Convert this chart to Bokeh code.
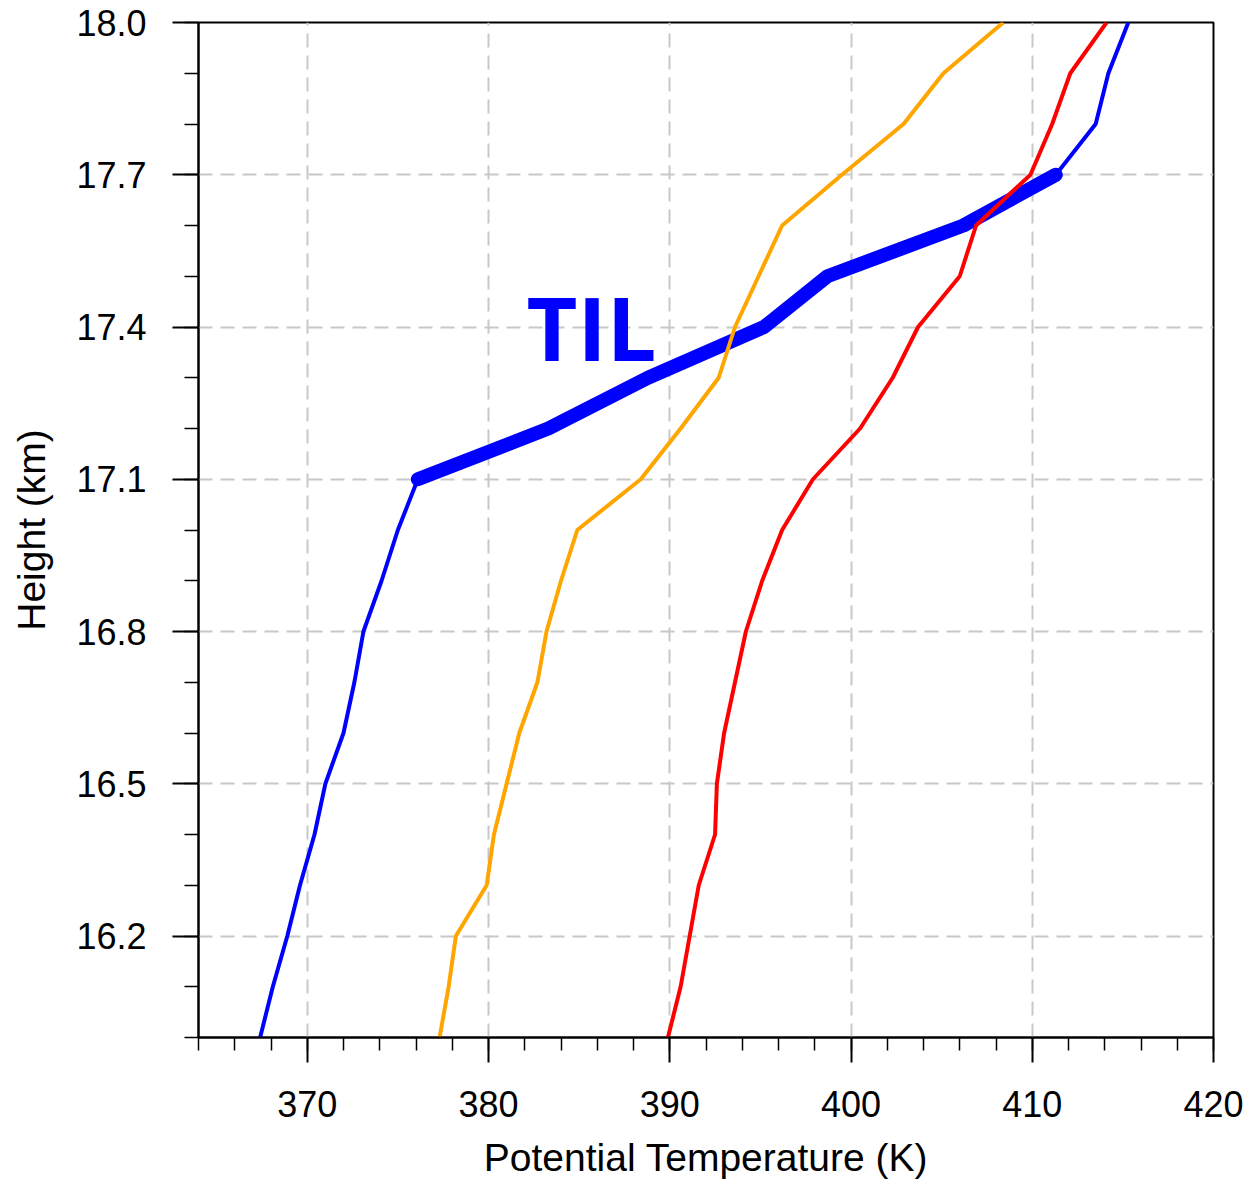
from bokeh.plotting import figure
from bokeh.models import Range1d, FixedTicker, PrintfTickFormatter
from bokeh.core.properties import value
from bokeh.embed import file_html
from bokeh.resources import INLINE

# ---- data ----
height_km = [16.0, 16.1, 16.2, 16.3, 16.4, 16.5, 16.6, 16.7, 16.8, 16.9, 17.0,
             17.1, 17.2, 17.3, 17.4, 17.5, 17.6, 17.7, 17.8, 17.9, 18.0]
theta_blue = [367.4, 368.1, 368.9, 369.6, 370.4, 371.0, 372.0, 372.6, 373.1, 374.1, 375.0,
              376.1, 383.3, 388.8, 395.2, 398.7, 406.2, 411.3, 413.5, 414.2, 415.3]
theta_orange = [377.3, 377.8, 378.2, 379.9, 380.3, 381.0, 381.7, 382.7, 383.2, 384.0, 384.9,
                388.4, 390.6, 392.7, 393.6, 394.9, 396.2, 399.5, 402.9, 405.1, 408.4]
theta_red = [389.9, 390.6, 391.1, 391.6, 392.5, 392.6, 393.0, 393.6, 394.2, 395.1, 396.2,
             397.9, 400.5, 402.3, 403.7, 406.0, 406.9, 409.9, 411.1, 412.1, 414.1]
til_bottom, til_top = 17.1, 17.7
til_label = "TIL"
til_label_x, til_label_y = 382.1, 17.40

x_major_ticks = [370, 380, 390, 400, 410, 420]
x_minor_ticks = [364, 366, 368, 370, 372, 374, 376, 378, 380, 382, 384, 386, 388, 390,
                 392, 394, 396, 398, 400, 402, 404, 406, 408, 410, 412, 414, 416, 418, 420]
y_major_ticks = [16.2, 16.5, 16.8, 17.1, 17.4, 17.7, 18.0]
y_minor_ticks = height_km

til_h = [h for h in height_km if til_bottom - 1e-9 <= h <= til_top + 1e-9]
til_t = [t for h, t in zip(height_km, theta_blue) if til_bottom - 1e-9 <= h <= til_top + 1e-9]

p = figure(width=1253, height=1181, output_backend="svg", toolbar_location=None,
           x_range=Range1d(364, 420), y_range=Range1d(16.0, 18.0),
           min_border_left=198, min_border_right=40, min_border_top=22, min_border_bottom=144)
p.background_fill_color = "white"
p.border_fill_color = "white"
p.outline_line_color = "black"
p.outline_line_width = 2

FONT = "Liberation Sans"
for ax in (p.xaxis[0], p.yaxis[0]):
    ax.axis_line_color = "black"
    ax.axis_line_width = 2
    ax.major_tick_line_color = "black"
    ax.minor_tick_line_color = "black"
    ax.major_tick_line_width = 2
    ax.minor_tick_line_width = 1.5
    ax.major_tick_in = 0
    ax.minor_tick_in = 0
    ax.major_label_text_font = FONT
    ax.major_label_text_font_size = "36px"
    ax.major_label_text_color = "black"
    ax.axis_label_text_font = FONT
    ax.axis_label_text_font_size = "39px"
    ax.axis_label_text_font_style = "normal"
    ax.axis_label_text_color = "black"

p.xaxis.ticker = FixedTicker(ticks=x_major_ticks, minor_ticks=x_minor_ticks)
p.yaxis.ticker = FixedTicker(ticks=y_major_ticks, minor_ticks=y_minor_ticks)
p.yaxis.formatter = PrintfTickFormatter(format="%.1f")
p.xaxis.major_tick_out = 25
p.xaxis.minor_tick_out = 13
p.yaxis.major_tick_out = 26
p.yaxis.minor_tick_out = 14
p.xaxis.major_label_standoff = 28
p.yaxis.major_label_standoff = 26
p.xaxis.axis_label = "Potential Temperature (K)"
p.yaxis.axis_label = "Height (km)"
p.xaxis.axis_label_standoff = 16
p.yaxis.axis_label_standoff = 20

for g in (p.xgrid[0], p.ygrid[0]):
    g.grid_line_color = "#c8c8c8"
    g.grid_line_width = 2
    g.grid_line_dash = "14 8"

p.line(theta_blue, height_km, line_color="#0000ff", line_width=4)
p.line(til_t, til_h, line_color="#0000ff", line_width=14, line_cap="round", line_join="round")
p.line(theta_orange, height_km, line_color="#ffa500", line_width=4)
p.line(theta_red, height_km, line_color="#ff0000", line_width=4)

p.text(x=[til_label_x], y=[til_label_y], text=[til_label], text_font=value("Open Sans"),
       text_font_style="bold", text_font_size="88px", text_color="#0000ff",
       text_baseline="alphabetic", text_align="left")

open("out.html", "w").write(file_html(p, INLINE))
